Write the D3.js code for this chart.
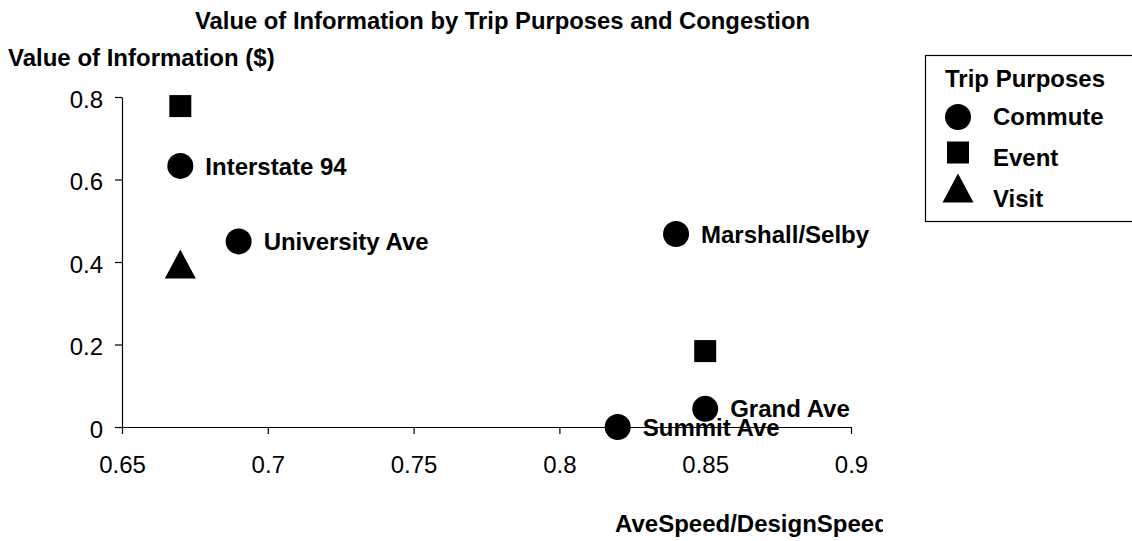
<!DOCTYPE html>
<html>
<head>
<meta charset="utf-8">
<script src="https://cdn.jsdelivr.net/npm/d3@7"></script>
<style>
  html, body { margin: 0; padding: 0; background: #fff; }
  svg { display: block; }
  text { font-family: "Liberation Sans", Arial, Helvetica, sans-serif; fill: #000; }
</style>
</head>
<body>
<svg id="chart" width="1132" height="541"></svg>
<script>
// ---- Data ----
const commuteNames = ["Interstate 94", "University Ave", "Marshall/Selby", "Grand Ave", "Summit Ave"];
const commuteX = [0.67, 0.69, 0.84, 0.85, 0.82];
const commuteY = [0.633, 0.45, 0.468, 0.044, 0.0];
const eventX = [0.67, 0.85];
const eventY = [0.778, 0.184];
const visitX = [0.67];
const visitY = [0.395];

const xTicks = [0.65, 0.7, 0.75, 0.8, 0.85, 0.9];
const xTickLabels = ["0.65", "0.7", "0.75", "0.8", "0.85", "0.9"];
const yTicks = [0, 0.2, 0.4, 0.6, 0.8];
const yTickLabels = ["0", "0.2", "0.4", "0.6", "0.8"];

const legendTitle = "Trip Purposes";
const legendItems = ["Commute", "Event", "Visit"];

const chartTitle = "Value of Information by Trip Purposes and Congestion";
const yTitle = "Value of Information ($)";
const xTitle = "AveSpeed/DesignSpeed";

// ---- Layout ----
const svg = d3.select("#chart");
const FS = 24;

const x = d3.scaleLinear().domain([0.65, 0.9]).range([122, 851]);
const y = d3.scaleLinear().domain([0, 0.8]).range([427, 97]);

const defs = svg.append("defs");
defs.append("clipPath").attr("id", "labelClip")
  .append("rect").attr("x", 0).attr("y", 0).attr("width", 873).attr("height", 541);
defs.append("clipPath").attr("id", "xTitleClip")
  .append("rect").attr("x", 0).attr("y", 0).attr("width", 883).attr("height", 541);

// Title
svg.append("text")
  .attr("x", 195).attr("y", 29)
  .attr("textLength", 615).attr("lengthAdjust", "spacingAndGlyphs")
  .attr("font-size", FS).attr("font-weight", "bold")
  .text(chartTitle);

// Y title
svg.append("text")
  .attr("x", 8).attr("y", 66)
  .attr("font-size", FS).attr("font-weight", "bold")
  .text(yTitle);

// X title
svg.append("text")
  .attr("x", 615).attr("y", 532)
  .attr("clip-path", "url(#xTitleClip)")
  .attr("font-size", FS).attr("font-weight", "bold")
  .text(xTitle);

// Axes
const yAxis = d3.axisLeft(y)
  .tickValues(yTicks)
  .tickFormat((d, i) => yTickLabels[i])
  .tickSize(7).tickSizeOuter(0).tickPadding(12);
const gy = svg.append("g").attr("transform", `translate(${x(0.65)},0)`).call(yAxis);

const xAxis = d3.axisBottom(x)
  .tickValues(xTicks)
  .tickFormat((d, i) => xTickLabels[i])
  .tickSize(7).tickSizeOuter(0);
const gx = svg.append("g").attr("transform", `translate(0,${y(0)})`).call(xAxis);

[gx, gy].forEach(g => {
  g.selectAll("path.domain").attr("stroke", "#000").attr("stroke-width", 1.2);
  g.selectAll(".tick line").attr("stroke", "#000").attr("stroke-width", 1.2);
  g.selectAll(".tick text")
    .attr("font-family", '"Liberation Sans", Arial, Helvetica, sans-serif')
    .attr("font-size", FS).attr("fill", "#000");
});
gy.selectAll(".tick text").attr("dy", "0.42em");
gx.selectAll(".tick text").attr("y", 46).attr("dy", 0);

// Marker shapes
const circlePath = d3.symbol().type(d3.symbolCircle).size(Math.PI * 13 * 13)();
const squarePath = d3.symbol().type(d3.symbolSquare).size(22 * 22)();
const trianglePath = "M0,-14.5L15.5,14.5L-15.5,14.5Z";

const marks = svg.append("g");

// Commute
const commute = commuteNames.map((n, i) => ({ name: n, x: commuteX[i], y: commuteY[i] }));
marks.selectAll("path.commute").data(commute).enter().append("path")
  .attr("class", "commute")
  .attr("d", circlePath)
  .attr("transform", d => `translate(${x(d.x)},${y(d.y)})`)
  .attr("fill", "#000");

// Event
const events = eventX.map((v, i) => ({ x: v, y: eventY[i] }));
marks.selectAll("path.event").data(events).enter().append("path")
  .attr("class", "event")
  .attr("d", squarePath)
  .attr("transform", d => `translate(${x(d.x)},${y(d.y)})`)
  .attr("fill", "#000");

// Visit
const visits = visitX.map((v, i) => ({ x: v, y: visitY[i] }));
marks.selectAll("path.visit").data(visits).enter().append("path")
  .attr("class", "visit")
  .attr("d", trianglePath)
  .attr("transform", d => `translate(${x(d.x)},${y(d.y)})`)
  .attr("fill", "#000");

// Data labels
svg.append("g").attr("clip-path", "url(#labelClip)")
  .selectAll("text").data(commute).enter().append("text")
  .attr("x", d => x(d.x) + 25)
  .attr("y", d => y(d.y))
  .attr("dy", "0.36em")
  .attr("font-size", FS).attr("font-weight", "bold")
  .text(d => d.name);

// Legend
const lg = svg.append("g");
lg.append("rect")
  .attr("x", 925.5).attr("y", 55.5)
  .attr("width", 230).attr("height", 166)
  .attr("fill", "#fff").attr("stroke", "#000").attr("stroke-width", 1.2);
lg.append("text")
  .attr("x", 945).attr("y", 87)
  .attr("font-size", FS).attr("font-weight", "bold")
  .text(legendTitle);
const legendShapes = [circlePath, squarePath, trianglePath];
legendItems.forEach((name, i) => {
  lg.append("path")
    .attr("d", legendShapes[i])
    .attr("transform", `translate(958,${117 + i * 35.5})`)
    .attr("fill", "#000");
  lg.append("text")
    .attr("x", 993).attr("y", 125 + i * 41)
    .attr("font-size", FS).attr("font-weight", "bold")
    .text(name);
});
</script>
</body>
</html>
